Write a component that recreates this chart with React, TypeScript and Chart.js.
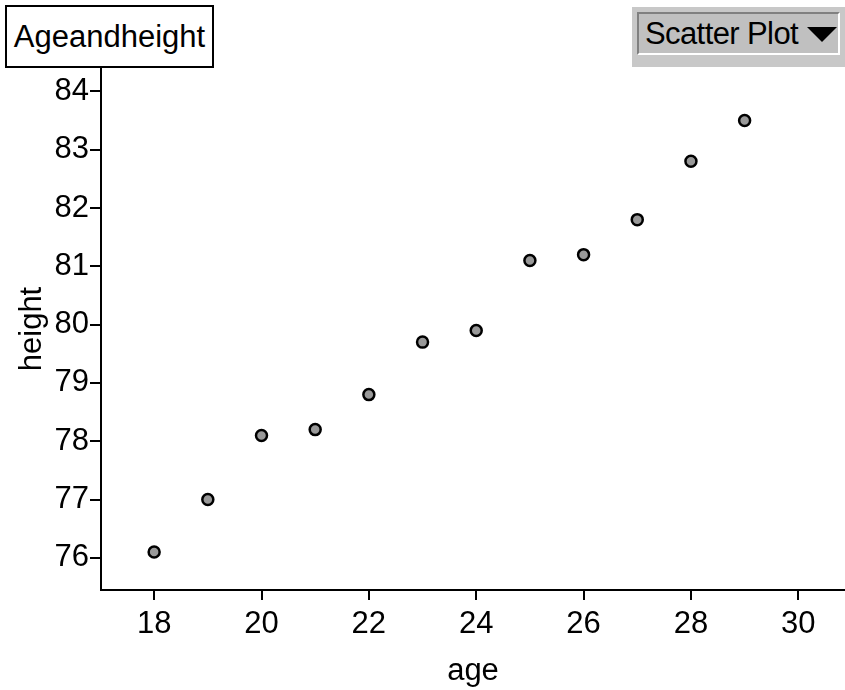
import React, { useEffect, useRef } from "react";
import { Chart, registerables } from "chart.js";

Chart.register(...registerables);

const titleText = "Ageandheight";
const menuText = "Scatter Plot";
const xLabel = "age";
const yLabel = "height";
const ages = [18, 19, 20, 21, 22, 23, 24, 25, 26, 27, 28, 29];
const heights = [76.1, 77.0, 78.1, 78.2, 78.8, 79.7, 79.9, 81.1, 81.2, 81.8, 82.8, 83.5];
const xRange = [17.01, 30.87];
const yRange = [75.45, 84.4];

const FONT = "'Liberation Sans', Arial, Helvetica, sans-serif";

export default function App() {
  const ref = useRef<HTMLCanvasElement>(null);
  useEffect(() => {
    if (!ref.current) return;
    const chart = new Chart(ref.current, {
      type: "scatter",
      data: {
        datasets: [
          {
            data: ages.map((a, i) => ({ x: a, y: heights[i] })),
            backgroundColor: "#999999",
            borderColor: "#000000",
            borderWidth: 2.5,
            pointRadius: 5.5,
            pointHoverRadius: 5.5,
          },
        ],
      },
      options: {
        animation: false,
        responsive: false,
        maintainAspectRatio: false,
        layout: { autoPadding: false, padding: { top: 68, left: 0, right: 0, bottom: 0 } },
        plugins: { legend: { display: false }, tooltip: { enabled: false } },
        scales: {
          x: {
            type: "linear",
            min: xRange[0],
            max: xRange[1],
            afterFit: (s: any) => {
              s.height = 100;
              s.paddingLeft = 0;
              s.paddingRight = 0;
            },
            ticks: {
              stepSize: 2,
              includeBounds: false,
              color: "#000",
              padding: 6,
              maxRotation: 0,
              font: { family: FONT, size: 31 },
            },
            grid: {
              display: true,
              drawOnChartArea: false,
              drawTicks: true,
              tickLength: 10,
              color: "#000",
              lineWidth: 2,
            },
            border: { display: true, color: "#000", width: 2 },
            title: {
              display: true,
              text: xLabel,
              color: "#000",
              padding: { top: 0, bottom: 0 },
              font: { family: FONT, size: 31 },
            },
          },
          y: {
            type: "linear",
            min: yRange[0],
            max: yRange[1],
            afterFit: (s: any) => {
              s.width = 101;
              s.paddingTop = 0;
              s.paddingBottom = 0;
            },
            ticks: {
              stepSize: 1,
              includeBounds: false,
              color: "#000",
              padding: 1,
              font: { family: FONT, size: 31 },
            },
            grid: {
              display: true,
              drawOnChartArea: false,
              drawTicks: true,
              tickLength: 11,
              color: "#000",
              lineWidth: 2,
            },
            border: { display: true, color: "#000", width: 2 },
            title: {
              display: true,
              text: yLabel,
              color: "#000",
              padding: { top: 14, bottom: 0 },
              font: { family: FONT, size: 31 },
            },
          },
        },
      },
    });
    return () => chart.destroy();
  }, []);

  return (
    <div style={{ position: "fixed", left: 0, top: 0, width: 845, height: 690, background: "#fff", overflow: "hidden" }}>
      <canvas ref={ref} width={845} height={690} style={{ position: "absolute", left: 0, top: 0 }} />
      <div
        style={{
          position: "absolute",
          left: 5,
          top: 5,
          width: 205,
          height: 59,
          border: "2px solid #000",
          background: "#fff",
          fontFamily: FONT,
          fontSize: 31,
          lineHeight: "59px",
          textAlign: "center",
          color: "#000",
          whiteSpace: "nowrap",
        }}
      >
        {titleText}
      </div>
      <div
        style={{
          position: "absolute",
          left: 632,
          top: 7,
          width: 213,
          height: 60,
          background: "#c8c8c8",
        }}
      >
        <div
          style={{
            position: "absolute",
            left: 5,
            top: 5,
            width: 199,
            height: 39,
            borderTop: "2px solid #808080",
            borderLeft: "2px solid #808080",
            borderBottom: "2px solid #ffffff",
            borderRight: "2px solid #ffffff",
            background: "#c0c0c0",
            fontFamily: FONT,
            fontSize: 31,
            lineHeight: "39px",
            color: "#000",
            whiteSpace: "nowrap",
            letterSpacing: -0.6,
          }}
        >
          <span style={{ position: "absolute", left: 6, top: 0 }}>{menuText}</span>
          <svg width="30" height="16" style={{ position: "absolute", left: 168, top: 13 }}>
            <polygon points="0,0 30,0 15,15" fill="#000" />
          </svg>
        </div>
      </div>
    </div>
  );
}
